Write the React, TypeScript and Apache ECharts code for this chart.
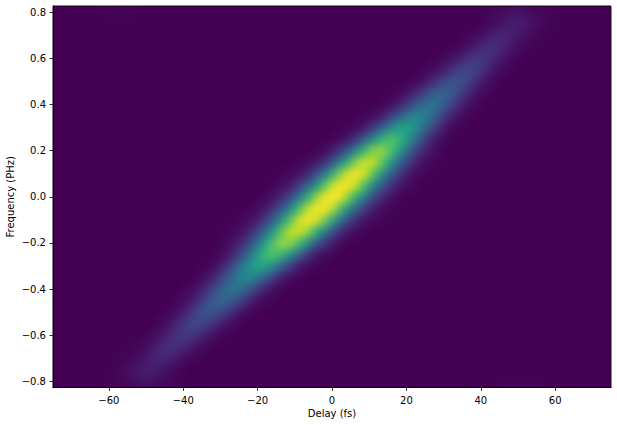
import React, { useEffect, useRef } from "react";
import * as echarts from "echarts";

const xTicks = [-60, -40, -20, 0, 20, 40, 60];
const yTicks = [-0.8, -0.6, -0.4, -0.2, 0, 0.2, 0.4, 0.6, 0.8];
const viridis = ["#440154", "#482475", "#414487", "#355f8d", "#2a788e", "#21918c", "#22a884", "#44bf70", "#7ad151", "#bddf26", "#fde725"];

// Frequency of each heatmap row and delay of each column (cell centres).
const freqRows = [
  -0.8, -0.75, -0.7, -0.65, -0.6, -0.55, -0.5, -0.45, -0.4, -0.35, -0.3, -0.25, -0.2, -0.15, -0.1, -0.05, 0,
  0.05, 0.1, 0.15, 0.2, 0.25, 0.3, 0.35, 0.4, 0.45, 0.5, 0.55, 0.6, 0.65, 0.7, 0.75, 0.8,
];
const delayCols = [
  -73.75, -71.25, -68.75, -66.25, -63.75, -61.25, -58.75, -56.25, -53.75, -51.25, -48.75, -46.25, -43.75, -41.25, -38.75,
  -36.25, -33.75, -31.25, -28.75, -26.25, -23.75, -21.25, -18.75, -16.25, -13.75, -11.25, -8.75, -6.25, -3.75, -1.25,
  1.25, 3.75, 6.25, 8.75, 11.25, 13.75, 16.25, 18.75, 21.25, 23.75, 26.25, 28.75, 31.25, 33.75, 36.25,
  38.75, 41.25, 43.75, 46.25, 48.75, 51.25, 53.75, 56.25, 58.75, 61.25, 63.75, 66.25, 68.75, 71.25, 73.75,
];

// Intensity (percent of peak): [frequency, first delay, values...]
const ridge: number[][] = [
  [-0.8, -58.75, 1, 2, 3, 5, 5, 3, 2, 1],
  [-0.75, -58.75, 1, 2, 5, 7, 8, 6, 3, 1],
  [-0.7, -56.25, 1, 2, 5, 8, 10, 9, 5, 2, 1],
  [-0.65, -53.75, 1, 2, 5, 10, 13, 12, 8, 4, 1],
  [-0.6, -48.75, 2, 5, 10, 15, 16, 12, 7, 3, 1],
  [-0.55, -46.25, 2, 5, 12, 18, 21, 18, 11, 5, 2],
  [-0.5, -43.75, 2, 5, 12, 20, 26, 24, 17, 9, 3, 1],
  [-0.45, -41.25, 2, 5, 12, 22, 30, 31, 25, 15, 7, 2, 1],
  [-0.4, -38.75, 2, 5, 13, 24, 34, 38, 32, 21, 11, 4, 1],
  [-0.35, -36.25, 1, 5, 12, 24, 37, 45, 43, 32, 19, 8, 3, 1],
  [-0.3, -33.75, 1, 4, 13, 25, 42, 55, 57, 47, 32, 17, 7, 2, 1],
  [-0.25, -31.25, 1, 4, 12, 26, 45, 62, 70, 64, 48, 29, 14, 5, 2],
  [-0.2, -28.75, 2, 6, 13, 28, 48, 68, 81, 80, 65, 44, 24, 12, 4, 1],
  [-0.15, -28.75, 1, 2, 5, 14, 28, 48, 71, 87, 90, 78, 58, 35, 18, 7, 3, 1],
  [-0.1, -26.25, 1, 2, 5, 13, 27, 47, 70, 90, 97, 89, 70, 46, 27, 12, 5, 2, 1],
  [-0.05, -21.25, 2, 5, 12, 25, 44, 68, 88, 99, 94, 78, 54, 33, 17, 7, 3, 1],
  [0, -18.75, 1, 4, 10, 21, 39, 62, 84, 100, 100, 84, 62, 39, 21, 10, 4, 1],
  [0.05, -16.25, 1, 3, 7, 17, 33, 54, 78, 94, 99, 88, 68, 44, 25, 12, 5, 2],
  [0.1, -13.75, 1, 2, 5, 12, 27, 46, 70, 89, 97, 90, 70, 47, 27, 13, 5, 2, 1],
  [0.15, -8.75, 1, 3, 7, 18, 35, 58, 78, 90, 87, 71, 48, 28, 14, 5, 2, 1],
  [0.2, -3.75, 1, 4, 12, 24, 44, 65, 80, 81, 68, 48, 28, 13, 6, 2],
  [0.25, 1.25, 2, 5, 14, 29, 48, 64, 70, 62, 45, 26, 12, 4, 1],
  [0.3, 3.75, 1, 2, 7, 17, 32, 47, 57, 55, 42, 25, 13, 4, 1],
  [0.35, 8.75, 1, 3, 8, 19, 32, 43, 45, 37, 24, 12, 5, 1],
  [0.4, 13.75, 1, 4, 11, 21, 32, 38, 34, 24, 13, 5, 2],
  [0.45, 16.25, 1, 2, 7, 15, 25, 31, 30, 22, 12, 5, 2],
  [0.5, 21.25, 1, 3, 9, 17, 24, 26, 20, 12, 5, 2],
  [0.55, 26.25, 2, 5, 11, 18, 21, 18, 12, 5, 2],
  [0.6, 28.75, 1, 3, 7, 12, 16, 15, 10, 5, 2],
  [0.65, 33.75, 1, 4, 8, 12, 13, 10, 5, 2, 1],
  [0.7, 36.25, 1, 2, 5, 9, 10, 8, 5, 2, 1],
  [0.75, 41.25, 1, 3, 6, 8, 7, 5, 2, 1],
  [0.8, 41.25, 1, 2, 3, 5, 5, 3, 2, 1],
];

// The two very faint lobes in the top-left and bottom-right corners.
const faintLobes: number[][] = [
  [0.8, -61.25, 1, 1, 1, 1],
  [-0.8, 46.25, 1, 1, 1, 1, 1],
];

const font = "DejaVu Sans";

export default function App() {
  const heatRef = useRef<HTMLDivElement>(null);
  const axesRef = useRef<HTMLDivElement>(null);

  useEffect(() => {
    const heat = echarts.init(heatRef.current!, null, { renderer: "svg" });
    const axes = echarts.init(axesRef.current!, null, { renderer: "svg" });

    const cells: number[][] = [];
    [...ridge, ...faintLobes].forEach(([f, start, ...values]) => {
      const row = freqRows.indexOf(f);
      const first = delayCols.indexOf(start);
      values.forEach((v, k) => cells.push([first + k, row, v]));
    });

    heat.setOption({
      animation: false,
      backgroundColor: "#440154",
      grid: { left: 0, right: 0, top: 0, bottom: 0, outerBoundsMode: "none" },
      xAxis: { type: "category", data: delayCols, show: false },
      yAxis: { type: "category", data: freqRows, show: false },
      visualMap: { show: false, type: "continuous", min: 0, max: 97, inRange: { color: viridis } },
      series: [{ type: "heatmap", data: cells, itemStyle: { borderWidth: 0 }, emphasis: { disabled: true } }],
    });

    const axisCommon = {
      type: "value",
      nameLocation: "middle",
      nameMoveOverlap: false,
      nameTextStyle: { fontFamily: font, fontSize: 10, color: "#000" },
      splitLine: { show: false },
      axisLine: { show: true, onZero: false, lineStyle: { color: "#000", width: 1 } },
    };
    const tickStyle = { show: true, length: 3.5, lineStyle: { color: "#000", width: 0.8 } };
    const labelStyle = { show: true, fontFamily: font, fontSize: 10, color: "#000" };

    axes.setOption({
      animation: false,
      backgroundColor: "transparent",
      grid: {
        show: true,
        left: 53,
        top: 6,
        width: 558,
        height: 381.5,
        borderColor: "#111",
        borderWidth: 1,
        backgroundColor: "transparent",
        outerBoundsMode: "none",
      },
      xAxis: {
        ...axisCommon,
        name: "Delay (fs)",
        nameGap: 21,
        min: -75,
        max: 75,
        axisTick: { ...tickStyle, customValues: xTicks },
        axisLabel: {
          ...labelStyle,
          margin: 8,
          customValues: xTicks,
          formatter: (v: number) => String(v).replace("-", "\u2212"),
        },
      },
      yAxis: {
        ...axisCommon,
        name: "Frequency (PHz)",
        nameGap: 38,
        min: -0.826,
        max: 0.826,
        axisTick: { ...tickStyle, customValues: yTicks },
        axisLabel: {
          ...labelStyle,
          margin: 7,
          customValues: yTicks,
          formatter: (v: number) => v.toFixed(1).replace("-", "\u2212"),
        },
      },
      series: [],
    });

    return () => {
      heat.dispose();
      axes.dispose();
    };
  }, []);

  return (
    <div style={{ position: "fixed", left: 0, top: 0, width: 617, height: 425, background: "#fff" }}>
      <div style={{ position: "absolute", left: 53, top: 6, width: 558, height: 381.5, overflow: "hidden", background: "#440154" }}>
        <div ref={heatRef} style={{ width: 558, height: 381.5, filter: "blur(4px)" }} />
      </div>
      <div ref={axesRef} style={{ position: "absolute", left: 0, top: 0, width: 617, height: 425 }} />
    </div>
  );
}
